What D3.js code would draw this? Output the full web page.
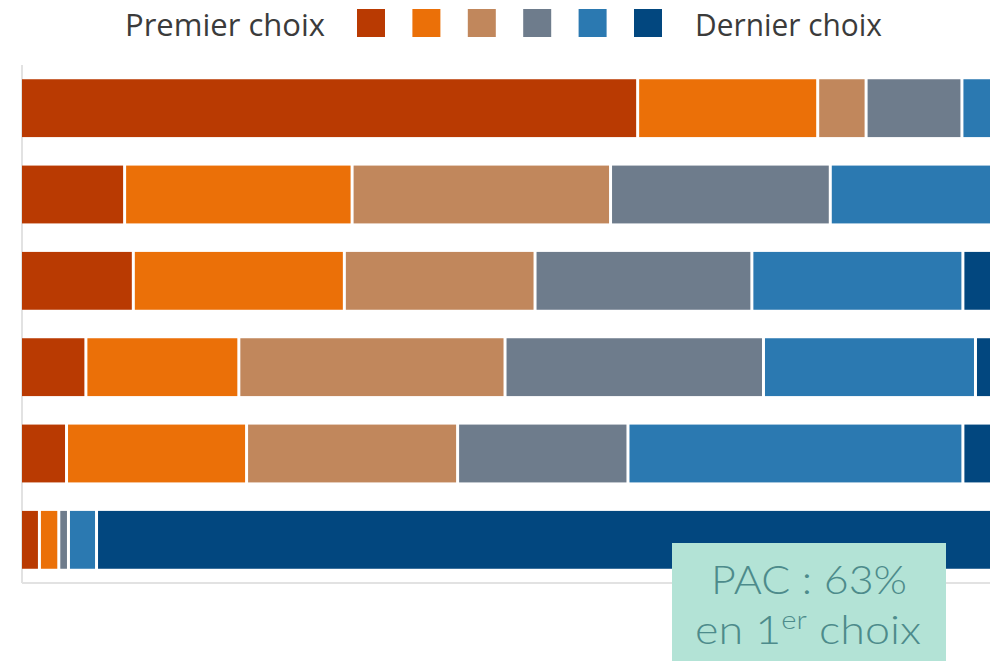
<!DOCTYPE html>
<html>
<head>
<meta charset="utf-8">
<script src="https://cdn.jsdelivr.net/npm/d3@7"></script>
<style>
  html, body { margin: 0; padding: 0; background: #fff; }
  svg { display: block; }
</style>
</head>
<body>
<div id="chart"></div>
<script>
var width = 995, height = 661

// rows, top to bottom (no labels shown on the chart)
var rows = ['r1', 'r2', 'r3', 'r4', 'r5', 'r6']
var ranks = ['c1', 'c2', 'c3', 'c4', 'c5', 'c6']

// share of answers (%) for each rank, one value per row
var c1 = [63.6, 10.6, 11.5, 6.6, 4.6, 1.8]
var c2 = [18.6, 23.5, 21.8, 15.8, 18.6, 2.0]
var c3 = [5.0, 26.7, 19.7, 27.5, 21.8, 0]
var c4 = [9.9, 22.7, 22.4, 26.7, 17.6, 1.0]
var c5 = [2.9, 16.5, 21.8, 21.9, 34.6, 2.9]
var c6 = [0, 0, 2.8, 1.5, 2.8, 92.3]

var legendLeft = 'Premier choix',
    legendRight = 'Dernier choix'

var colors = {
    c1: '#b93a02',
    c2: '#eb7008',
    c3: '#c1875c',
    c4: '#6e7c8c',
    c5: '#2b79b1',
    c6: '#02477f',
    axis: '#e2e2e2',
    text: '#3b3b3b',
    noteBg: '#b3e3d6',
    noteText: '#4d8b8b'
}

var table = rows.map(function(r, i) {
    return { row: r, c1: c1[i], c2: c2[i], c3: c3[i], c4: c4[i], c5: c5[i], c6: c6[i] }
})

var series = d3.stack().keys(ranks)(table)

var x = d3.scaleLinear()
    .domain([0, 100])
    .range([22, 990])

var y = d3.scaleBand()
    .domain(rows)
    .range([65, 583])
    .paddingInner(0.33)
    .paddingOuter(0.165)

var svg = d3.select('#chart').append('svg')
    .attr('width', width)
    .attr('height', height)

// axis frame
svg.append('line')
    .attr('x1', x(0)).attr('x2', x(0))
    .attr('y1', 65).attr('y2', 583)
    .attr('stroke', colors.axis).attr('stroke-width', 2)
svg.append('line')
    .attr('x1', x(0)).attr('x2', x(100))
    .attr('y1', 583).attr('y2', 583)
    .attr('stroke', colors.axis).attr('stroke-width', 2)

// bars
svg.append('g')
    .selectAll('g')
    .data(series)
    .join('g')
    .attr('fill', function(s) { return colors[s.key] })
    .selectAll('rect')
    .data(function(s) { return s.filter(function(d) { return d[1] - d[0] > 0 }) })
    .join('rect')
    .attr('x', function(d) { return x(d[0]) + (d[0] > 0 ? 1.5 : 0) })
    .attr('y', function(d) { return y(d.data.row) })
    .attr('width', function(d) {
        var w = x(d[1]) - x(d[0])
        if (d[0] > 0) w -= 1.5
        if (d[1] < 99.9) w -= 1.5
        return Math.max(w, 1)
    })
    .attr('height', y.bandwidth())

// legend
var legend = svg.append('g')
var sq = 28, step = 55.4, sqX = 357

legend.append('text')
    .attr('x', 325).attr('y', 36)
    .attr('text-anchor', 'end')
    .attr('font-family', '"Open Sans", sans-serif')
    .attr('font-size', 31)
    .attr('textLength', 200)
    .attr('lengthAdjust', 'spacingAndGlyphs')
    .attr('fill', colors.text)
    .text(legendLeft)

legend.selectAll('rect')
    .data(ranks)
    .join('rect')
    .attr('x', function(d, i) { return sqX + i * step })
    .attr('y', 9)
    .attr('width', sq)
    .attr('height', sq)
    .attr('fill', function(d) { return colors[d] })

legend.append('text')
    .attr('x', 695).attr('y', 36)
    .attr('font-family', '"Open Sans", sans-serif')
    .attr('font-size', 31)
    .attr('textLength', 187)
    .attr('lengthAdjust', 'spacingAndGlyphs')
    .attr('fill', colors.text)
    .text(legendRight)

// note box
var note = svg.append('g')
note.append('rect')
    .attr('x', 672).attr('y', 543)
    .attr('width', 274).attr('height', 130)
    .attr('fill', colors.noteBg)

note.append('text')
    .attr('x', 809).attr('y', 594)
    .attr('text-anchor', 'middle')
    .attr('font-family', 'Lato, sans-serif')
    .attr('font-weight', 300)
    .attr('font-size', 40)
    .attr('textLength', 196)
    .attr('lengthAdjust', 'spacingAndGlyphs')
    .attr('fill', colors.noteText)
    .text('PAC : 63%')

var line2 = note.append('text')
    .attr('x', 695).attr('y', 644)
    .attr('font-family', 'Lato, sans-serif')
    .attr('font-weight', 300)
    .attr('font-size', 40)
    .attr('textLength', 226)
    .attr('lengthAdjust', 'spacingAndGlyphs')
    .attr('fill', colors.noteText)
line2.append('tspan').text('en 1')
line2.append('tspan').attr('dy', -15).attr('font-size', 26).text('er')
line2.append('tspan').attr('dy', 15).text(' choix')
</script>
</body>
</html>
